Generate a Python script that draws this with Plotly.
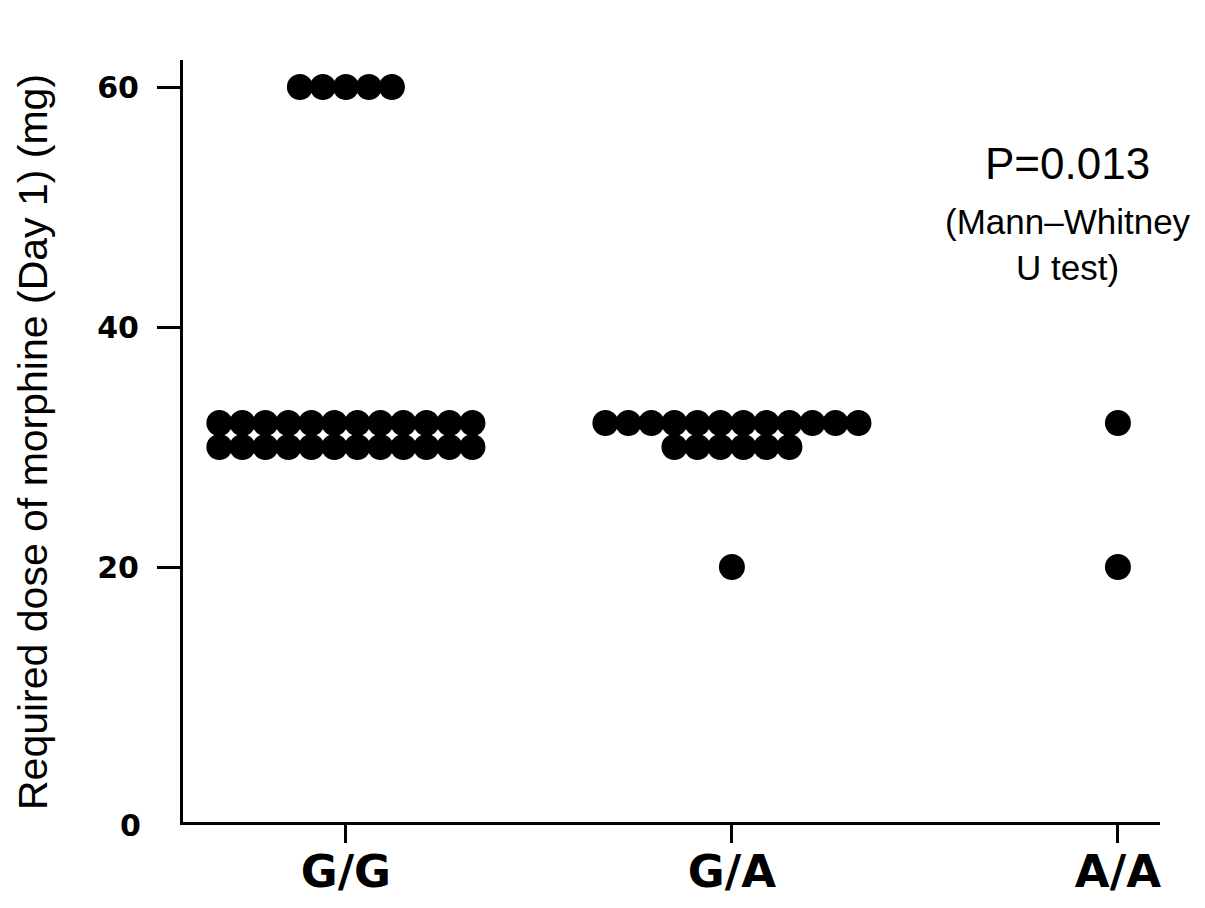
import plotly.graph_objects as go

# ---- data ----
categories = ["G/G", "G/A", "A/A"]
gg_values = [60, 60, 60, 60, 60,
             32, 32, 32, 32, 32, 32, 32, 32, 32, 32, 32, 32,
             30, 30, 30, 30, 30, 30, 30, 30, 30, 30, 30, 30]
ga_values = [32, 32, 32, 32, 32, 32, 32, 32, 32, 32, 32, 32,
             30, 30, 30, 30, 30, 30,
             20]
aa_values = [32, 20]
group_values = [gg_values, ga_values, aa_values]
y_tick_vals = [20, 40, 60]
y_title = "Required dose of morphine (Day 1) (mg)"
p_text = "P=0.013"
test_text = "(Mann\u2013Whitney<br>U test)"

# ---- page geometry ----
W, H = 1205, 908
L, R, T, B = 183, 45, 60, 86
PW, PH = W - L - R, H - T - B
dot_step = 0.0596  # horizontal spacing between adjacent dots (x units)

xs, ys = [], []
for gi, vals in enumerate(group_values):
    levels = []
    for v in vals:
        if v not in levels:
            levels.append(v)
    for lv in levels:
        n = vals.count(lv)
        for i in range(n):
            xs.append(gi + (i - (n - 1) / 2) * dot_step)
            ys.append(lv)

fig = go.Figure()
fig.add_trace(go.Scatter(
    x=xs, y=ys, mode="markers",
    marker=dict(color="black", size=26, symbol="circle", line=dict(width=0)),
    showlegend=False, hoverinfo="y"))


def px_x(px):
    return (px - L) / PW


def px_y(py):
    return (H - B - py) / PH


fig.update_layout(
    width=W, height=H,
    margin=dict(l=L, r=R, t=T, b=B, autoexpand=False),
    paper_bgcolor="white", plot_bgcolor="white",
    xaxis=dict(
        range=[-0.422, 2.109],
        tickvals=[0, 1, 2], ticktext=categories,
        showline=True, linecolor="black", linewidth=3,
        ticks="outside", ticklen=18, tickwidth=2.5, tickcolor="black",
        showgrid=False, zeroline=False, automargin=False,
        tickfont=dict(family="DejaVu Sans", size=45, color="black", weight="bold"),
        ticklabelstandoff=-10,
    ),
    yaxis=dict(
        range=[-1.25, 62.25],
        tickvals=y_tick_vals,
        showline=True, linecolor="black", linewidth=3,
        ticks="outside", ticklen=23, tickwidth=3, tickcolor="black",
        showgrid=False, zeroline=False, automargin=False,
        tickfont=dict(family="DejaVu Sans", size=30, color="black", weight="bold"),
        ticklabelstandoff=12,
    ),
    annotations=[
        dict(text="0", xref="paper", yref="y", x=0, y=-1.25,
             xanchor="right", yanchor="middle", xshift=-40, yshift=-3, showarrow=False,
             font=dict(family="DejaVu Sans", size=30, color="black", weight="bold")),
        dict(text=y_title, xref="paper", yref="paper",
             x=px_x(33), y=px_y(442), textangle=-90,
             xanchor="center", yanchor="middle", showarrow=False,
             font=dict(family="Liberation Sans, Arial", size=41, color="black")),
        dict(text=p_text, xref="paper", yref="paper",
             x=px_x(1067), y=px_y(163),
             xanchor="center", yanchor="middle", showarrow=False,
             font=dict(family="Liberation Sans, Arial", size=44, color="black")),
        dict(text=test_text, xref="paper", yref="paper",
             x=px_x(1068), y=px_y(245),
             xanchor="center", yanchor="middle", showarrow=False,
             font=dict(family="Liberation Sans, Arial", size=35, color="black")),
    ],
)

fig.write_html("out.html",
               config={"displayModeBar": False},
               post_script="document.body.style.margin='0px';"
                           "document.body.style.overflow='hidden';")
